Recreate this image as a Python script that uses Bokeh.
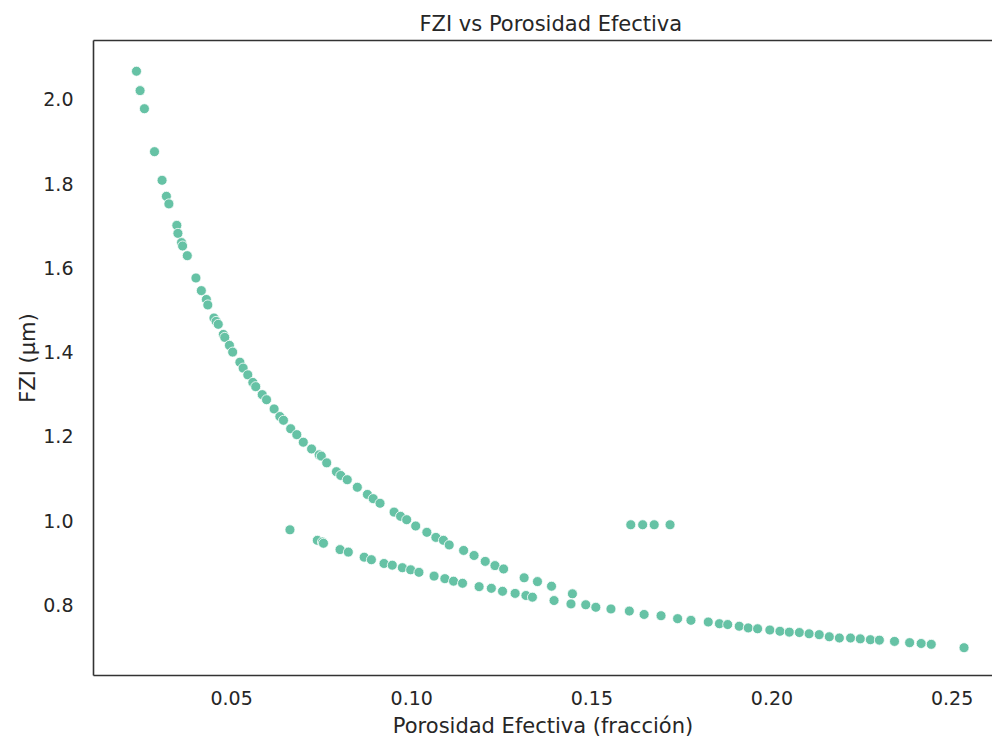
from bokeh.plotting import figure
from bokeh.models import LinearAxis, FixedTicker, NumeralTickFormatter, Range1d
from bokeh.embed import file_html
from bokeh.resources import INLINE

# Upper branch (porosity fraction, FZI um)
upper_phi = [0.0236, 0.0246, 0.0258, 0.0286, 0.0307, 0.0319, 0.0326, 0.0348, 0.0351, 0.0361,
             0.0364, 0.0377, 0.0401, 0.0416, 0.0430, 0.0434, 0.0451, 0.0457, 0.0463, 0.0477,
             0.0481, 0.0494, 0.0503, 0.0523, 0.0532, 0.0545, 0.0559, 0.0567, 0.0585, 0.0597,
             0.0618, 0.0634, 0.0644, 0.0664, 0.0681, 0.0699, 0.0722, 0.0743, 0.0749, 0.0764,
             0.0791, 0.0803, 0.0821, 0.0849, 0.0877, 0.0893, 0.0912, 0.0951, 0.0969, 0.0986,
             0.1011, 0.1042, 0.1067, 0.1088, 0.1104, 0.1144, 0.1173, 0.1204, 0.1231, 0.1255,
             0.1312, 0.1349, 0.1388, 0.1446]
upper_fzi = [2.067, 2.021, 1.978, 1.876, 1.808, 1.770, 1.752, 1.701, 1.682, 1.660,
             1.652, 1.629, 1.576, 1.546, 1.525, 1.512, 1.481, 1.473, 1.466, 1.442,
             1.435, 1.416, 1.400, 1.376, 1.362, 1.346, 1.328, 1.318, 1.299, 1.287,
             1.265, 1.247, 1.238, 1.218, 1.204, 1.186, 1.170, 1.156, 1.153, 1.137,
             1.116, 1.107, 1.097, 1.079, 1.062, 1.052, 1.041, 1.020, 1.010, 1.002,
             0.987, 0.972, 0.960, 0.953, 0.942, 0.929, 0.917, 0.903, 0.893, 0.885,
             0.864, 0.855, 0.844, 0.826]

# Lower branch
lower_phi = [0.0662, 0.0738, 0.0752, 0.0755, 0.0801, 0.0824, 0.0868, 0.0888, 0.0923, 0.0946,
             0.0974, 0.0997, 0.1020, 0.1062, 0.1092, 0.1116, 0.1141, 0.1187, 0.1221, 0.1252,
             0.1287, 0.1317, 0.1335, 0.1395, 0.1442, 0.1483, 0.1511, 0.1553, 0.1604, 0.1645,
             0.1692, 0.1738, 0.1775, 0.1823, 0.1854, 0.1877, 0.1909, 0.1934, 0.1960, 0.1994,
             0.2022, 0.2048, 0.2076, 0.2103, 0.2131, 0.2159, 0.2187, 0.2218, 0.2245, 0.2273,
             0.2298, 0.2340, 0.2382, 0.2414, 0.2442, 0.2533]
lower_fzi = [0.978, 0.953, 0.949, 0.946, 0.931, 0.925, 0.913, 0.907, 0.898, 0.894,
             0.888, 0.883, 0.877, 0.868, 0.862, 0.856, 0.851, 0.843, 0.839, 0.832,
             0.827, 0.822, 0.818, 0.810, 0.802, 0.800, 0.794, 0.790, 0.785, 0.777,
             0.774, 0.767, 0.763, 0.759, 0.755, 0.753, 0.749, 0.745, 0.743, 0.740,
             0.737, 0.735, 0.734, 0.731, 0.729, 0.724, 0.721, 0.721, 0.719, 0.717,
             0.716, 0.713, 0.710, 0.708, 0.706, 0.698]

# Isolated group
outlier_phi = [0.1608, 0.1641, 0.1673, 0.1717]
outlier_fzi = [0.990, 0.990, 0.990, 0.990]

x_ticks = [0.05, 0.10, 0.15, 0.20, 0.25]
y_ticks = [0.8, 1.0, 1.2, 1.4, 1.6, 1.8, 2.0]

FONT = "DejaVu Sans"
TXT = "#262626"

p = figure(width=992, height=742, output_backend="svg", toolbar_location=None,
           x_range=Range1d(0.01167, 0.2612), y_range=Range1d(0.632, 2.140),
           title="FZI vs Porosidad Efectiva",
           min_border_left=93, min_border_right=0, min_border_top=40, min_border_bottom=67)
p.outline_line_color = None
p.grid.visible = False
p.background_fill_color = "white"
p.border_fill_color = "white"

p.title.align = "left"
p.title.offset = 326
p.title.text_font = FONT
p.title.text_font_size = "21px"
p.title.text_font_style = "normal"
p.title.text_color = TXT

for ax in (p.xaxis[0], p.yaxis[0]):
    ax.axis_line_color = "#333333"
    ax.axis_line_width = 1.6
    ax.major_tick_line_color = None
    ax.minor_tick_line_color = None
    ax.major_label_text_font = FONT
    ax.major_label_text_font_size = "19px"
    ax.major_label_text_color = TXT
    ax.axis_label_text_font = FONT
    ax.axis_label_text_font_size = "21px"
    ax.axis_label_text_font_style = "normal"
    ax.axis_label_text_color = TXT

p.xaxis.ticker = FixedTicker(ticks=x_ticks)
p.yaxis.ticker = FixedTicker(ticks=y_ticks)
p.xaxis.formatter = NumeralTickFormatter(format="0.00")
p.yaxis.formatter = NumeralTickFormatter(format="0.0")
p.xaxis.axis_label = "Porosidad Efectiva (fracción)"
p.yaxis.axis_label = "FZI (µm)"
p.xaxis.major_label_standoff = 9
p.yaxis.major_label_standoff = 14
p.xaxis.axis_label_standoff = 6
p.yaxis.axis_label_standoff = 0

top = LinearAxis(axis_line_color="#333333", axis_line_width=1.6,
                 major_tick_line_color=None, minor_tick_line_color=None,
                 major_label_text_font_size="0px", ticker=FixedTicker(ticks=[]))
p.add_layout(top, "above")

style = dict(size=10, fill_color="#66c2a5", line_color="white", line_width=0.8)
p.scatter(upper_phi, upper_fzi, **style)
p.scatter(lower_phi, lower_fzi, **style)
p.scatter(outlier_phi, outlier_fzi, **style)

open("out.html", "w").write(file_html(p, INLINE))
